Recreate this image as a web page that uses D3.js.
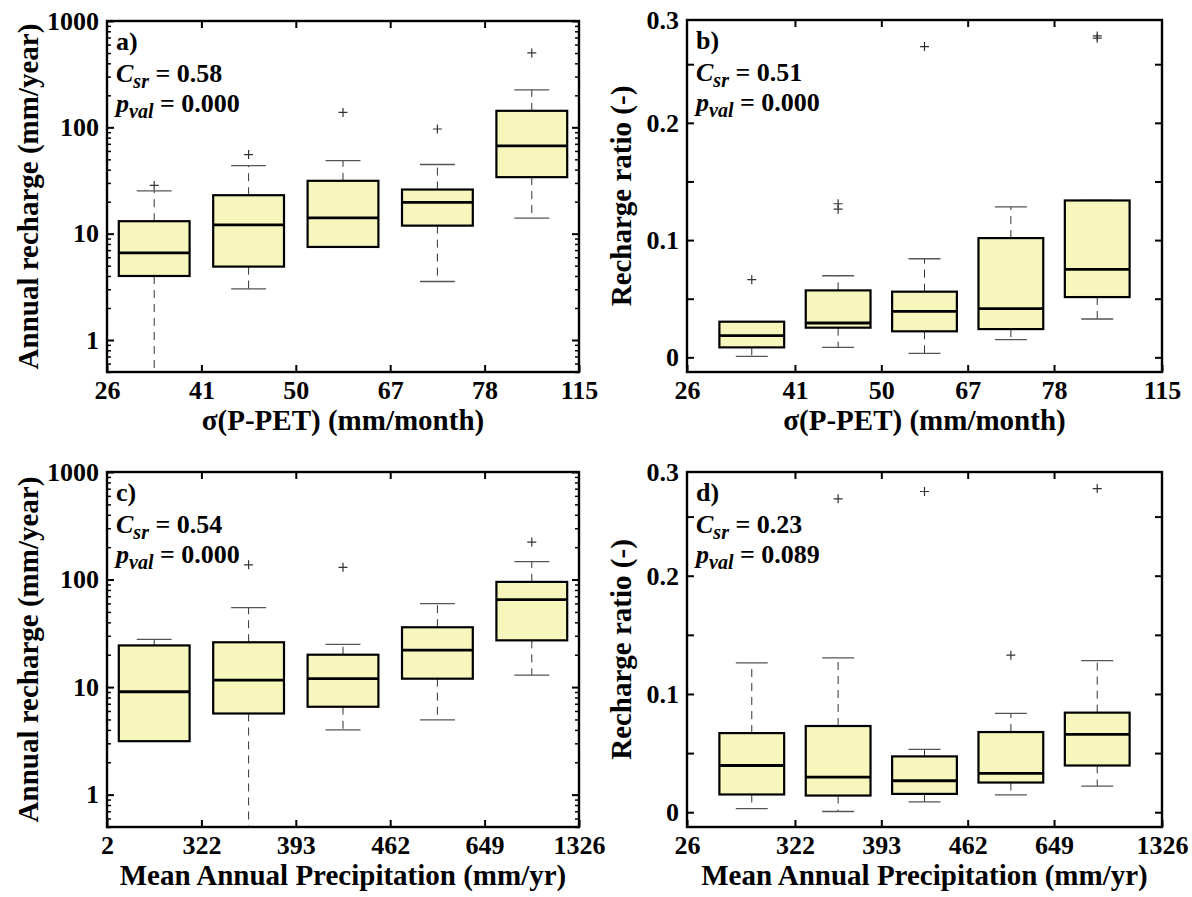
<!DOCTYPE html>
<html>
<head>
<meta charset="UTF-8">
<title>Recharge boxplots</title>
<script src="https://cdn.jsdelivr.net/npm/d3@7"></script>
<style>
  body { margin: 0; background: #fff; }
  svg text { font-family: "Liberation Serif", "Times New Roman", serif; font-weight: bold; fill: #000; }
  .tick line { stroke: #000; stroke-width: 2; }
  .minor .tick line { stroke-width: 1.5; }
  .box { fill: #f7f7bd; stroke: #000; stroke-width: 2.2; }
  .median { stroke: #000; stroke-width: 2.8; }
  .whisker { stroke: #333; stroke-width: 1; stroke-dasharray: 8,6; }
  .cap { stroke: #555; stroke-width: 1.3; }
  .outlier { stroke: #333; stroke-width: 1.2; }
  .frame { fill: none; stroke: #000; stroke-width: 2.4; }
</style>
</head>
<body>
<svg id="chart" width="1192" height="897"></svg>
<script>
// x labels (bin edges)
var sigmaLabels = ["26", "41", "50", "67", "78", "115"];
var mapLabelsC = ["2", "322", "393", "462", "649", "1326"];
var mapLabelsD = ["26", "322", "393", "462", "649", "1326"];

// a) annual recharge vs sigma(P-PET)
var aLo  = [0.1, 3.03, 7.5, 3.55, 14.0];
var aQ1  = [4.0, 4.9, 7.5, 11.9, 34.0];
var aMed = [6.6, 12.1, 14.1, 19.7, 66.8];
var aQ3  = [13.1, 23.0, 31.4, 26.0, 143];
var aHi  = [25.3, 43.7, 48.7, 44.7, 225];
var aOut = [[28.4], [55.4], [138], [96.5], [501]];

// b) recharge ratio vs sigma(P-PET)
var bLo  = [0.0009, 0.0085, 0.0034, 0.0151, 0.0327];
var bQ1  = [0.0085, 0.0253, 0.0222, 0.0241, 0.0514];
var bMed = [0.0185, 0.0293, 0.0392, 0.0415, 0.075];
var bQ3  = [0.0304, 0.0571, 0.056, 0.1017, 0.1338];
var bHi  = [0.0304, 0.0696, 0.0841, 0.1284, 0.1338];
var bOut = [[0.0662], [0.1264, 0.131], [0.265], [], [0.2722, 0.2741]];

// c) annual recharge vs mean annual precipitation
var cLo  = [3.14, 0.1, 4.0, 4.96, 12.9];
var cQ1  = [3.14, 5.68, 6.56, 11.97, 27.2];
var cMed = [9.05, 11.6, 12.0, 22.1, 65.1];
var cQ3  = [24.4, 26.1, 20.0, 36.0, 95.1];
var cHi  = [27.8, 54.8, 25.0, 59.7, 147];
var cOut = [[], [137], [130], [], [223]];

// d) recharge ratio vs mean annual precipitation
var dLo  = [0.0031, 0.0006, 0.0088, 0.0147, 0.022];
var dQ1  = [0.015, 0.0141, 0.0155, 0.0251, 0.0395];
var dMed = [0.0395, 0.0297, 0.0266, 0.0328, 0.0658];
var dQ3  = [0.0669, 0.0729, 0.0472, 0.0678, 0.0842];
var dHi  = [0.1263, 0.1305, 0.0531, 0.0836, 0.1282];
var dOut = [[], [0.265], [0.2712], [0.1328], [0.2737]];

var stats = { a: ["0.58", "0.000"], b: ["0.51", "0.000"], c: ["0.54", "0.000"], d: ["0.23", "0.089"] };

var svg = d3.select("#chart");
svg.append("rect").attr("width", 1192).attr("height", 897).attr("fill", "#fff");

function pack(lo, q1, med, q3, hi, out) {
  return lo.map(function(d, i) {
    return { lo: lo[i], q1: q1[i], med: med[i], q3: q3[i], hi: hi[i], out: out[i] };
  });
}

var panels = [
  { id: "a", left: 107, right: 579, top: 21, bottom: 372, log: true, xlim: [0.5, 5.5],
    data: pack(aLo, aQ1, aMed, aQ3, aHi, aOut), xl: sigmaLabels,
    ytitle: "Annual recharge (mm/year)", ytx: 28, xtitle: "\u03c3(P-PET) (mm/month)" },
  { id: "b", left: 687, right: 1162, top: 20, bottom: 372, log: false, xlim: [0.25, 5.75],
    data: pack(bLo, bQ1, bMed, bQ3, bHi, bOut), xl: sigmaLabels,
    ytitle: "Recharge ratio (-)", ytx: 621, xtitle: "\u03c3(P-PET) (mm/month)" },
  { id: "c", left: 107, right: 579, top: 472, bottom: 827, log: true, xlim: [0.5, 5.5],
    data: pack(cLo, cQ1, cMed, cQ3, cHi, cOut), xl: mapLabelsC,
    ytitle: "Annual recharge (mm/year)", ytx: 28, xtitle: "Mean Annual Precipitation (mm/yr)" },
  { id: "d", left: 687, right: 1162, top: 472, bottom: 827, log: false, xlim: [0.25, 5.75],
    data: pack(dLo, dQ1, dMed, dQ3, dHi, dOut), xl: mapLabelsD,
    ytitle: "Recharge ratio (-)", ytx: 621, xtitle: "Mean Annual Precipitation (mm/yr)" }
];

panels.forEach(function(p) {
  var x = d3.scaleLinear().domain(p.xlim).range([p.left, p.right]);
  var y;
  if (p.log) {
    y = d3.scaleLog().domain([0.5, 1000]).range([p.bottom, p.top]);
  } else {
    y = d3.scaleLinear().domain([-0.0125, 0.2877]).range([p.bottom, p.top]);
  }
  var g = svg.append("g");

  var clipId = "clip-" + p.id;
  svg.append("clipPath").attr("id", clipId).append("rect")
    .attr("x", p.left).attr("y", p.top).attr("width", p.right - p.left).attr("height", p.bottom - p.top);

  var marks = g.append("g").attr("clip-path", "url(#" + clipId + ")");
  var bw = 0.75, cw = 0.37;

  var box = marks.selectAll("g.bx").data(p.data).enter().append("g").attr("class", "bx");
  // whiskers
  box.append("line").attr("class", "whisker")
    .attr("x1", function(d, i) { return x(i + 1); }).attr("x2", function(d, i) { return x(i + 1); })
    .attr("y1", function(d) { return y(d.q3); }).attr("y2", function(d) { return y(d.hi); });
  box.append("line").attr("class", "whisker")
    .attr("x1", function(d, i) { return x(i + 1); }).attr("x2", function(d, i) { return x(i + 1); })
    .attr("y1", function(d) { return y(d.q1); }).attr("y2", function(d) { return y(Math.max(d.lo, p.log ? 0.3 : -0.02)); });
  // caps
  box.append("line").attr("class", "cap")
    .attr("x1", function(d, i) { return x(i + 1 - cw / 2); }).attr("x2", function(d, i) { return x(i + 1 + cw / 2); })
    .attr("y1", function(d) { return y(d.hi); }).attr("y2", function(d) { return y(d.hi); });
  box.append("line").attr("class", "cap")
    .attr("x1", function(d, i) { return x(i + 1 - cw / 2); }).attr("x2", function(d, i) { return x(i + 1 + cw / 2); })
    .attr("y1", function(d) { return y(d.lo); }).attr("y2", function(d) { return y(d.lo); });
  // box + median
  box.append("rect").attr("class", "box")
    .attr("x", function(d, i) { return x(i + 1 - bw / 2); })
    .attr("width", function() { return x(bw) - x(0); })
    .attr("y", function(d) { return y(d.q3); })
    .attr("height", function(d) { return y(d.q1) - y(d.q3); });
  box.append("line").attr("class", "median")
    .attr("x1", function(d, i) { return x(i + 1 - bw / 2); }).attr("x2", function(d, i) { return x(i + 1 + bw / 2); })
    .attr("y1", function(d) { return y(d.med); }).attr("y2", function(d) { return y(d.med); });
  // outliers
  box.each(function(d, i) {
    d3.select(this).selectAll("path.outlier").data(d.out).enter().append("path")
      .attr("class", "outlier")
      .attr("d", function(v) {
        var cx = x(i + 1), cy = y(v), s = 4.5;
        return "M" + (cx - s) + "," + cy + "H" + (cx + s) + "M" + cx + "," + (cy - s) + "V" + (cy + s);
      });
  });

  // axes
  var edges = d3.range(1.5, 5, 1);
  var xTickVals = [p.xlim[0]].concat(edges, [p.xlim[1]]);
  g.append("g").attr("transform", "translate(0," + p.bottom + ")")
    .call(d3.axisBottom(x).tickValues(xTickVals).tickSize(-7).tickPadding(9)
      .tickFormat(function(d, i) { return p.xl[i]; }))
    .call(function(s) { s.select(".domain").remove(); s.selectAll("text").attr("font-size", 26); });
  g.append("g").attr("transform", "translate(0," + p.top + ")")
    .call(d3.axisTop(x).tickValues(edges).tickSize(-7).tickFormat(""))
    .call(function(s) { s.select(".domain").remove(); });

  if (p.log) {
    var major = [1, 10, 100, 1000];
    var minor = [];
    [0.1, 1, 10, 100].forEach(function(dec) { d3.range(2, 10).forEach(function(k) { if (dec * k >= 0.5) minor.push(dec * k); }); });
    g.append("g").attr("transform", "translate(" + p.left + ",0)")
      .call(d3.axisLeft(y).tickValues(major).tickSize(-7).tickPadding(8).tickFormat(d3.format("d")))
      .call(function(s) { s.select(".domain").remove(); s.selectAll("text").attr("font-size", 26); });
    g.append("g").attr("class", "minor").attr("transform", "translate(" + p.left + ",0)")
      .call(d3.axisLeft(y).tickValues(minor).tickSize(-4).tickFormat(""))
      .call(function(s) { s.select(".domain").remove(); });
    g.append("g").attr("transform", "translate(" + p.right + ",0)")
      .call(d3.axisRight(y).tickValues(major).tickSize(-7).tickFormat(""))
      .call(function(s) { s.select(".domain").remove(); });
    g.append("g").attr("class", "minor").attr("transform", "translate(" + p.right + ",0)")
      .call(d3.axisRight(y).tickValues(minor).tickSize(-4).tickFormat(""))
      .call(function(s) { s.select(".domain").remove(); });
  } else {
    var yTop = y.domain()[1];
    var labelled = [0, 0.1, 0.2, yTop];
    var all = [0, 0.05, 0.1, 0.15, 0.2, 0.25];
    g.append("g").attr("transform", "translate(" + p.left + ",0)")
      .call(d3.axisLeft(y).tickValues(labelled).tickSize(0).tickPadding(8)
        .tickFormat(function(d) { return d === yTop ? "0.3" : (d === 0 ? "0" : d3.format(".1f")(d)); }))
      .call(function(s) { s.select(".domain").remove(); s.selectAll("text").attr("font-size", 26); });
    g.append("g").attr("transform", "translate(" + p.left + ",0)")
      .call(d3.axisLeft(y).tickValues(all).tickSize(-7).tickFormat(""))
      .call(function(s) { s.select(".domain").remove(); });
    g.append("g").attr("transform", "translate(" + p.right + ",0)")
      .call(d3.axisRight(y).tickValues(all).tickSize(-7).tickFormat(""))
      .call(function(s) { s.select(".domain").remove(); });
  }

  g.append("rect").attr("class", "frame")
    .attr("x", p.left).attr("y", p.top).attr("width", p.right - p.left).attr("height", p.bottom - p.top);

  // titles
  g.append("text").attr("font-size", 29).attr("text-anchor", "middle")
    .attr("transform", "translate(" + p.ytx + "," + ((p.top + p.bottom) / 2) + ") rotate(-90)")
    .attr("dy", "0.35em").text(p.ytitle);
  g.append("text").attr("font-size", 29).attr("text-anchor", "middle")
    .attr("x", (p.left + p.right) / 2).attr("y", p.bottom + 58).text(p.xtitle);

  // annotations
  var tx = p.left + 9;
  g.append("text").attr("font-size", 26).attr("x", tx).attr("y", p.top + 29).text(p.id + ")");
  var t1 = g.append("text").attr("font-size", 26).attr("x", tx).attr("y", p.top + 61);
  t1.append("tspan").attr("font-style", "italic").text("C");
  t1.append("tspan").attr("font-style", "italic").attr("font-size", 20).attr("dy", 6).text("sr");
  t1.append("tspan").attr("dy", -6).text(" = " + stats[p.id][0]);
  var t2 = g.append("text").attr("font-size", 26).attr("x", tx).attr("y", p.top + 91);
  t2.append("tspan").attr("font-style", "italic").text("p");
  t2.append("tspan").attr("font-style", "italic").attr("font-size", 20).attr("dy", 6).text("val");
  t2.append("tspan").attr("dy", -6).text(" = " + stats[p.id][1]);
});
</script>
</body>
</html>
